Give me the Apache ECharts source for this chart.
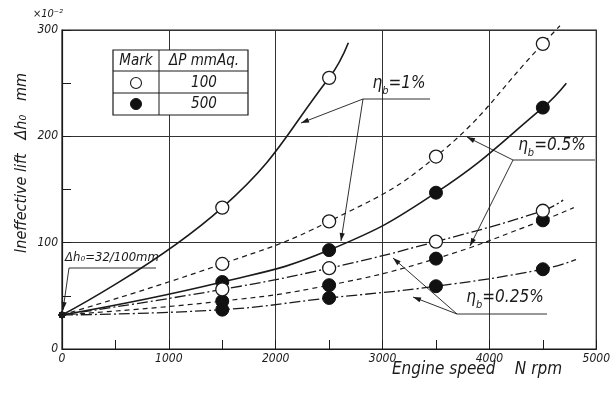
<!DOCTYPE html>
<html>
<head>
<meta charset="utf-8">
<script src="https://cdn.jsdelivr.net/npm/echarts@6/dist/echarts.min.js"></script>
<style>
  html, body { margin: 0; padding: 0; background: #fff; }
  #chart { width: 613px; height: 396px; }
</style>
</head>
<body>
<div id="chart"></div>
<script>
// Engine speed at which each set of measurements was taken (rpm)
const speeds = [0, 1500, 2500, 3500, 4500];

// Ineffective lift Δh0 (×10⁻² mm), ΔP = 100 mmAq (open marks)
const open_eta1   = [32, 133, 255];
const open_eta05  = [32, 80, 120, 181, 287];
const open_eta025 = [32, 56, 76, 101, 130];

// Ineffective lift Δh0 (×10⁻² mm), ΔP = 500 mmAq (filled marks)
const fill_eta1   = [32, 63, 93, 147, 227];
const fill_eta05  = [32, 45, 60, 85, 121];
const fill_eta025 = [32, 37, 48, 59, 75];

// Where each faired curve is carried on past its last measured point [rpm, lift]
const end_open_eta1   = [2680, 288];
const end_open_eta05  = [4660, 304];
const end_open_eta025 = [4690, 140];
const end_fill_eta1   = [4720, 250];
const end_fill_eta05  = [4790, 133];
const end_fill_eta025 = [4810, 84];

// Axis ticks
const xTicks = [0, 1000, 2000, 3000, 4000, 5000];
const yTicks = [0, 100, 200, 300];

const INK = '#1a1a1a';
const FONT = '"DejaVu Sans Condensed", "Liberation Sans Narrow", "DejaVu Sans", sans-serif';

const LINE_STYLES = {
  solid:   { type: 'solid', width: 1.6 },
  dashed:  { type: [5, 4], width: 1.2 },
  dashdot: { type: [11, 3, 2, 3], width: 1.3 }
};

function curve(name, values, endPt, open, style) {
  const data = values.map((v, i) => {
    if (i === 0) {
      return { value: [speeds[i], v], symbol: 'circle', symbolSize: 6,
               itemStyle: { color: INK, borderColor: INK } };
    }
    return { value: [speeds[i], v], symbol: 'circle', symbolSize: 13,
             itemStyle: open ? { color: '#fff', borderColor: INK, borderWidth: 1.3 }
                             : { color: '#111', borderColor: '#111', borderWidth: 1 } };
  });
  data.push({ value: endPt, symbol: 'none' });
  return {
    name: name,
    type: 'line',
    data: data,
    smooth: 0.45,
    clip: false,
    lineStyle: Object.assign({ color: INK }, LINE_STYLES[style]),
    emphasis: { disabled: true },
    z: open ? 4 : 3
  };
}

const series = [
  curve('η1 100', open_eta1, end_open_eta1, true, 'solid'),
  curve('η0.5 100', open_eta05, end_open_eta05, true, 'dashed'),
  curve('η0.25 100', open_eta025, end_open_eta025, true, 'dashdot'),
  curve('η1 500', fill_eta1, end_fill_eta1, false, 'solid'),
  curve('η0.5 500', fill_eta05, end_fill_eta05, false, 'dashed'),
  curve('η0.25 500', fill_eta025, end_fill_eta025, false, 'dashdot')
];

// Leader line ending in a small solid arrowhead
function leader(points) {
  const n = points.length;
  const [x1, y1] = points[n - 2];
  const [x2, y2] = points[n - 1];
  const a = Math.atan2(y2 - y1, x2 - x1);
  const L = 8, W = 2.6;
  const bx = x2 - L * Math.cos(a), by = y2 - L * Math.sin(a);
  const px = -Math.sin(a) * W, py = Math.cos(a) * W;
  return [
    { type: 'polyline', shape: { points: points }, style: { stroke: INK, lineWidth: 0.9, fill: null }, z: 20 },
    { type: 'polygon', shape: { points: [[x2, y2], [bx + px, by + py], [bx - px, by - py]] },
      style: { fill: INK }, z: 20 }
  ];
}

function etaLabel(x, y, pct) {
  return {
    type: 'text', x: x, y: y, z: 21,
    style: {
      text: '{e|η}{s|b}{e|=' + pct + '}',
      textAlign: 'center', textVerticalAlign: 'middle',
      rich: {
        e: { font: 'italic 17px ' + FONT, fill: INK, verticalAlign: 'top', lineHeight: 22 },
        s: { font: 'italic 11px ' + FONT, fill: INK, verticalAlign: 'bottom', lineHeight: 22, padding: [9, 0, 0, 0] }
      }
    }
  };
}

const graphics = [
  // legend table
  { type: 'rect', shape: { x: 113, y: 50, width: 135, height: 65 },
    style: { fill: '#fff', stroke: INK, lineWidth: 1.2 }, z: 30 },
  { type: 'line', shape: { x1: 159, y1: 50, x2: 159, y2: 115 }, style: { stroke: INK, lineWidth: 1 }, z: 31 },
  { type: 'line', shape: { x1: 113, y1: 71, x2: 248, y2: 71 }, style: { stroke: INK, lineWidth: 1 }, z: 31 },
  { type: 'line', shape: { x1: 113, y1: 93, x2: 248, y2: 93 }, style: { stroke: INK, lineWidth: 1 }, z: 31 },
  { type: 'text', x: 136, y: 61, z: 31, style: { text: 'Mark', font: 'italic 15px ' + FONT, fill: INK, textAlign: 'center', textVerticalAlign: 'middle' } },
  { type: 'text', x: 204, y: 61, z: 31, style: { text: 'ΔP mmAq.', font: 'italic 15px ' + FONT, fill: INK, textAlign: 'center', textVerticalAlign: 'middle' } },
  { type: 'circle', shape: { cx: 136, cy: 83, r: 5.5 }, style: { fill: '#fff', stroke: INK, lineWidth: 1.1 }, z: 31 },
  { type: 'text', x: 204, y: 83, z: 31, style: { text: '100', font: 'italic 15px ' + FONT, fill: INK, textAlign: 'center', textVerticalAlign: 'middle' } },
  { type: 'circle', shape: { cx: 136, cy: 104, r: 5.5 }, style: { fill: '#111', stroke: '#111', lineWidth: 1 }, z: 31 },
  { type: 'text', x: 204, y: 104, z: 31, style: { text: '500', font: 'italic 15px ' + FONT, fill: INK, textAlign: 'center', textVerticalAlign: 'middle' } },

  // axis titles
  { type: 'text', x: 22, y: 163, rotation: Math.PI / 2, z: 10,
    style: { text: 'Ineffective lift   Δh₀   mm', font: 'italic 16px ' + FONT, fill: INK, textAlign: 'center', textVerticalAlign: 'middle' } },
  { type: 'text', x: 48, y: 14, z: 10,
    style: { text: '×10⁻²', font: 'italic 11px ' + FONT, fill: INK, textAlign: 'center', textVerticalAlign: 'middle' } },
  { type: 'text', x: 477, y: 370, z: 10,
    style: { text: 'Engine speed    N rpm', font: 'italic 17px ' + FONT, fill: INK, textAlign: 'center', textVerticalAlign: 'middle' } },

  // starting lift note
  { type: 'text', x: 112, y: 258, z: 21,
    style: { text: 'Δh₀=32/100mm', font: 'italic 13px ' + FONT, fill: INK, textAlign: 'center', textVerticalAlign: 'middle' } },
  ...leader([[156, 268], [69, 268], [63, 310]]),

  // efficiency labels with leaders
  etaLabel(399, 86, '1%'),
  { type: 'line', shape: { x1: 363, y1: 99, x2: 430, y2: 99 }, style: { stroke: INK, lineWidth: 0.9 }, z: 20 },
  ...leader([[363, 99], [301, 123]]),
  ...leader([[363, 99], [341, 241]]),

  etaLabel(552, 148, '0.5%'),
  { type: 'line', shape: { x1: 513, y1: 160, x2: 595, y2: 160 }, style: { stroke: INK, lineWidth: 0.9 }, z: 20 },
  ...leader([[513, 160], [467, 137]]),
  ...leader([[513, 160], [470, 246]]),

  etaLabel(505, 300, '0.25%'),
  { type: 'line', shape: { x1: 457, y1: 314, x2: 547, y2: 314 }, style: { stroke: INK, lineWidth: 0.9 }, z: 20 },
  ...leader([[457, 314], [393, 258]]),
  ...leader([[457, 314], [413, 297]])
];

const axisLabel = { margin: 4, color: INK, fontSize: 12, fontStyle: 'italic', fontFamily: FONT, formatter: v => String(v) };

const chart = echarts.init(document.getElementById('chart'), null, { renderer: 'canvas' });
chart.setOption({
  animation: false,
  backgroundColor: '#fff',
  grid: { left: 62, right: 16, top: 30, bottom: 47, show: true, borderColor: INK, borderWidth: 1.2, backgroundColor: 'transparent' },
  xAxis: {
    type: 'value', min: xTicks[0], max: xTicks[xTicks.length - 1], interval: 1000,
    axisLine: { show: true, lineStyle: { color: INK, width: 1.2 } },
    axisTick: { show: true, inside: true, length: 9, lineStyle: { color: INK } },
    minorTick: { show: true, splitNumber: 2, length: 9, lineStyle: { color: INK } },
    splitLine: { show: true, lineStyle: { color: '#333', width: 1 } },
    axisLabel: axisLabel
  },
  yAxis: {
    type: 'value', min: yTicks[0], max: yTicks[yTicks.length - 1], interval: 100,
    axisLine: { show: true, lineStyle: { color: INK, width: 1.2 } },
    axisTick: { show: true, inside: true, length: 9, lineStyle: { color: INK } },
    minorTick: { show: true, splitNumber: 2, length: 9, lineStyle: { color: INK } },
    splitLine: { show: true, lineStyle: { color: '#333', width: 1 } },
    axisLabel: axisLabel
  },
  series: series,
  graphic: graphics
});
</script>
</body>
</html>
